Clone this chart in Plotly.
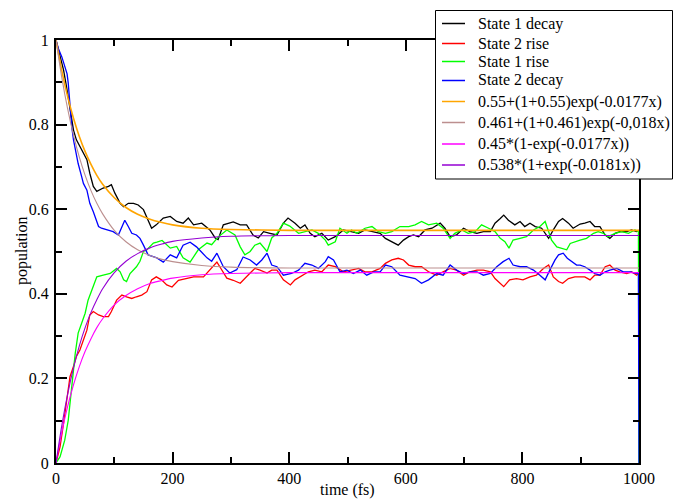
import plotly.graph_objects as go

# ---------------- data ----------------
s1_decay_x = [0, 7, 13, 18, 24, 30, 35, 41, 47, 53,
              58, 64, 70, 76, 81, 90, 95, 101, 110, 116,
              124, 133, 141, 150, 158, 164, 172, 184, 196, 207,
              218, 227, 236, 250, 264, 273, 278, 287, 304, 316,
              327, 338, 347, 356, 367, 379, 390, 398, 410, 419,
              427, 436, 444, 456, 467, 479, 493, 507, 519, 530,
              542, 556, 565, 576, 587, 596, 605, 613, 622, 633,
              645, 659, 667, 676, 687, 699, 710, 722, 733, 745,
              753, 762, 768, 776, 787, 796, 804, 813, 822, 833,
              839, 845, 853, 862, 869, 879, 887, 899, 907, 916,
              924, 933, 942, 950, 959, 967, 979, 987, 996, 1000]
s1_decay_y = [1.0, 0.961, 0.929, 0.89, 0.835, 0.787, 0.764, 0.748, 0.732, 0.717,
              0.685, 0.654, 0.642, 0.646, 0.65, 0.654, 0.658, 0.638, 0.614, 0.606,
              0.614, 0.614, 0.61, 0.599, 0.575, 0.555, 0.563, 0.579, 0.583, 0.571,
              0.567, 0.579, 0.563, 0.567, 0.551, 0.532, 0.528, 0.563, 0.57, 0.563,
              0.563, 0.539, 0.532, 0.547, 0.543, 0.539, 0.567, 0.579, 0.567, 0.555,
              0.563, 0.543, 0.535, 0.543, 0.527, 0.535, 0.551, 0.547, 0.543, 0.551,
              0.547, 0.543, 0.531, 0.523, 0.515, 0.527, 0.535, 0.539, 0.535, 0.551,
              0.555, 0.567, 0.555, 0.535, 0.539, 0.555, 0.547, 0.543, 0.547, 0.547,
              0.567, 0.578, 0.586, 0.574, 0.563, 0.571, 0.559, 0.567, 0.559, 0.555,
              0.543, 0.531, 0.551, 0.571, 0.578, 0.567, 0.555, 0.565, 0.567, 0.571,
              0.559, 0.559, 0.539, 0.531, 0.543, 0.547, 0.547, 0.551, 0.547, 0.55]

s2_rise_x = [0, 7, 13, 18, 24, 30, 35, 41, 47, 53,
             58, 64, 73, 81, 90, 95, 104, 113, 121, 130,
             138, 147, 156, 164, 172, 181, 190, 199, 210, 224,
             236, 253, 264, 276, 281, 293, 304, 316, 333, 341,
             350, 362, 370, 379, 390, 402, 410, 422, 433, 444,
             456, 467, 479, 493, 507, 519, 530, 542, 556, 565,
             576, 587, 596, 605, 616, 627, 639, 653, 664, 676,
             687, 699, 710, 722, 733, 745, 753, 762, 768, 778,
             790, 801, 813, 824, 836, 845, 853, 862, 869, 879,
             890, 899, 907, 916, 924, 933, 942, 950, 959, 967,
             979, 987, 996, 1000]
s2_rise_y = [0.0, 0.039, 0.094, 0.15, 0.204, 0.228, 0.252, 0.267, 0.29, 0.314,
             0.35, 0.358, 0.35, 0.346, 0.346, 0.358, 0.385, 0.397, 0.393, 0.389,
             0.393, 0.397, 0.405, 0.433, 0.44, 0.433, 0.421, 0.416, 0.432, 0.436,
             0.44, 0.44, 0.456, 0.475, 0.464, 0.437, 0.432, 0.425, 0.449, 0.46,
             0.456, 0.449, 0.456, 0.456, 0.433, 0.421, 0.433, 0.444, 0.452, 0.456,
             0.452, 0.468, 0.464, 0.452, 0.456, 0.46, 0.452, 0.452, 0.46, 0.472,
             0.48, 0.484, 0.48, 0.468, 0.464, 0.464, 0.452, 0.444, 0.452, 0.46,
             0.456, 0.444, 0.452, 0.456, 0.456, 0.452, 0.436, 0.425, 0.417, 0.433,
             0.436, 0.433, 0.44, 0.444, 0.46, 0.468, 0.44, 0.429, 0.425, 0.436,
             0.44, 0.44, 0.44, 0.433, 0.444, 0.444, 0.464, 0.468, 0.456, 0.452,
             0.448, 0.452, 0.444, 0.45]

s1_rise_x = [0, 7, 15, 21, 27, 33, 38, 44, 50, 55,
             61, 70, 81, 93, 104, 110, 116, 121, 127, 138,
             144, 150, 156, 167, 173, 182, 196, 207, 218, 230,
             244, 259, 267, 278, 293, 307, 316, 324, 333, 341,
             350, 362, 370, 379, 390, 401, 416, 427, 439, 450,
             462, 467, 479, 487, 499, 507, 516, 530, 542, 553,
             565, 576, 590, 605, 616, 627, 639, 653, 664, 676,
             684, 696, 707, 719, 730, 742, 753, 762, 770, 777,
             784, 796, 807, 819, 830, 839, 845, 850, 859, 867,
             876, 882, 890, 899, 910, 922, 930, 939, 947, 959,
             970, 982, 993, 999, 1000]
s1_rise_y = [0.0, 0.015, 0.054, 0.101, 0.18, 0.259, 0.307, 0.33, 0.354, 0.385,
             0.409, 0.44, 0.444, 0.448, 0.46, 0.452, 0.433, 0.429, 0.448, 0.464,
             0.477, 0.5, 0.504, 0.52, 0.522, 0.526, 0.508, 0.512, 0.485, 0.475,
             0.504, 0.52, 0.516, 0.534, 0.551, 0.539, 0.511, 0.492, 0.5, 0.515,
             0.52, 0.5, 0.532, 0.543, 0.567, 0.56, 0.543, 0.547, 0.551, 0.543,
             0.527, 0.515, 0.523, 0.555, 0.543, 0.551, 0.543, 0.555, 0.559, 0.547,
             0.543, 0.547, 0.559, 0.559, 0.563, 0.571, 0.563, 0.567, 0.555, 0.531,
             0.543, 0.551, 0.543, 0.547, 0.563, 0.555, 0.547, 0.531, 0.523, 0.508,
             0.527, 0.531, 0.535, 0.551, 0.559, 0.571, 0.547, 0.527, 0.511, 0.508,
             0.504, 0.519, 0.523, 0.527, 0.531, 0.543, 0.547, 0.543, 0.535, 0.543,
             0.547, 0.543, 0.551, 0.547, 0.0]

s2_decay_x = [0, 4, 10, 15, 19, 21, 24, 27, 30, 34,
              38, 44, 47, 53, 58, 64, 70, 73, 78, 87,
              98, 107, 113, 118, 124, 130, 138, 144, 150, 158,
              173, 184, 196, 207, 218, 230, 241, 259, 267, 276,
              287, 298, 310, 321, 333, 344, 353, 362, 370, 379,
              390, 404, 416, 427, 439, 450, 462, 467, 476, 487,
              499, 510, 522, 533, 545, 556, 565, 576, 590, 605,
              616, 627, 639, 653, 664, 676, 687, 699, 710, 722,
              733, 745, 756, 767, 777, 784, 796, 807, 819, 830,
              839, 847, 856, 862, 870, 877, 885, 893, 899, 907,
              916, 924, 933, 942, 950, 962, 973, 985, 996, 999,
              1000]
s2_decay_y = [1.0, 0.98, 0.96, 0.937, 0.92, 0.898, 0.842, 0.795, 0.764, 0.732,
              0.708, 0.677, 0.661, 0.645, 0.614, 0.594, 0.571, 0.559, 0.555, 0.551,
              0.547, 0.539, 0.559, 0.574, 0.559, 0.543, 0.539, 0.531, 0.515, 0.492,
              0.485, 0.475, 0.492, 0.485, 0.515, 0.522, 0.511, 0.485, 0.477, 0.496,
              0.464, 0.449, 0.457, 0.487, 0.48, 0.468, 0.48, 0.496, 0.468, 0.464,
              0.444, 0.448, 0.456, 0.472, 0.468, 0.46, 0.476, 0.488, 0.48, 0.452,
              0.456, 0.448, 0.456, 0.444, 0.452, 0.452, 0.468, 0.464, 0.444, 0.44,
              0.436, 0.425, 0.433, 0.448, 0.444, 0.468, 0.456, 0.448, 0.452, 0.452,
              0.444, 0.448, 0.464, 0.476, 0.484, 0.468, 0.464, 0.464, 0.456, 0.444,
              0.433, 0.456, 0.48, 0.492, 0.496, 0.484, 0.476, 0.468, 0.468, 0.464,
              0.456, 0.448, 0.444, 0.452, 0.456, 0.46, 0.452, 0.452, 0.448, 0.45,
              0.0]

# fitted curves, tabulated
fit_x = [0, 10, 20, 30, 40, 50, 60, 70, 80, 100,
         120, 140, 160, 180, 200, 250, 300, 400, 500, 1000]
fit_s1_decay = [1.0, 0.927, 0.866, 0.815, 0.772, 0.736, 0.706, 0.680, 0.659, 0.627,
                0.604, 0.588, 0.577, 0.569, 0.563, 0.555, 0.552, 0.550, 0.550, 0.550]
fit_s2_decay = [1.0, 0.911, 0.837, 0.775, 0.723, 0.680, 0.644, 0.614, 0.589, 0.550,
                0.523, 0.504, 0.491, 0.482, 0.476, 0.467, 0.463, 0.461, 0.461, 0.461]
fit_s2_rise = [0.0, 0.073, 0.134, 0.185, 0.228, 0.264, 0.294, 0.320, 0.341, 0.374,
               0.396, 0.412, 0.424, 0.431, 0.437, 0.445, 0.448, 0.450, 0.450, 0.450]
fit_s1_rise = [0.0, 0.089, 0.163, 0.225, 0.277, 0.320, 0.356, 0.386, 0.412, 0.450,
               0.477, 0.495, 0.508, 0.517, 0.524, 0.532, 0.536, 0.538, 0.538, 0.538]

legend_names = ["State 1 decay", "State 2 rise", "State 1 rise", "State 2 decay",
                "0.55+(1+0.55)exp(-0.0177x)", "0.461+(1+0.461)exp(-0,018x)",
                "0.45*(1-exp(-0.0177x))", "0.538*(1+exp(-0.0181x))"]
series_colors = ["#000000", "#ff0000", "#00ff00", "#0000ff",
                 "#ffa500", "#bc8f8f", "#ff00ff", "#9400d3"]

# ---------------- layout geometry ----------------
W, H = 673, 501
ML, MR, MT, MB = 56, 34, 40, 38
PW, PH = W - ML - MR, H - MT - MB
FONT = "'Liberation Serif', 'Times New Roman', 'DejaVu Serif', serif"


def pxx(X):
    return (X - ML) / PW


def pxy(Y):
    return (H - MB - Y) / PH


fig = go.Figure()
data_series = [(s1_decay_x, s1_decay_y), (s2_rise_x, s2_rise_y),
               (s1_rise_x, s1_rise_y), (s2_decay_x, s2_decay_y)]
for i, (xs, ys) in enumerate(data_series):
    fig.add_trace(go.Scatter(x=xs, y=ys, mode="lines", name=legend_names[i],
                             line=dict(color=series_colors[i], width=1.3),
                             showlegend=False))
fit_series = [fit_s1_decay, fit_s2_decay, fit_s2_rise, fit_s1_rise]
for j, ys in enumerate(fit_series):
    fig.add_trace(go.Scatter(x=fit_x, y=ys, mode="lines", name=legend_names[4 + j],
                             line=dict(color=series_colors[4 + j],
                                       width=1.6 if j == 0 else 1.1,
                                       shape="spline", smoothing=0.8),
                             showlegend=False))

# legend drawn as a box with samples and labels
shapes = [dict(type="rect", xref="paper", yref="paper",
               x0=pxx(435.5), x1=pxx(672.5), y0=pxy(179), y1=pxy(10.5),
               line=dict(color="black", width=1), fillcolor="white", layer="above")]
annotations = []
legend_rows = [23.5, 43.5, 61.5, 80.5, 101.5, 122.5, 144, 165]
for name, col, Y in zip(legend_names, series_colors, legend_rows):
    shapes.append(dict(type="line", xref="paper", yref="paper",
                       x0=pxx(442), x1=pxx(465), y0=pxy(Y), y1=pxy(Y),
                       line=dict(color=col, width=1.5), layer="above"))
    annotations.append(dict(xref="paper", yref="paper", x=pxx(476), y=pxy(Y),
                            xanchor="left", yanchor="middle", text=name,
                            showarrow=False,
                            font=dict(family=FONT, size=16, color="black")))

# axis titles
annotations.append(dict(xref="paper", yref="paper", x=pxx(347.5), y=pxy(490),
                        xanchor="center", yanchor="middle", text="time (fs)",
                        showarrow=False, font=dict(family=FONT, size=16, color="black")))
annotations.append(dict(xref="paper", yref="paper", x=pxx(22), y=pxy(251),
                        xanchor="center", yanchor="middle", text="population",
                        textangle=-90, showarrow=False,
                        font=dict(family=FONT, size=16, color="black")))

axis_common = dict(ticks="inside", ticklen=11, tickwidth=1.5, tickcolor="black",
                   showline=True, linewidth=2, linecolor="black", mirror="ticks",
                   showgrid=False, zeroline=False, automargin=False,
                   tickfont=dict(family=FONT, size=16, color="black"))

fig.update_layout(
    width=W, height=H,
    margin=dict(l=ML, r=MR, t=MT, b=MB, pad=0, autoexpand=False),
    paper_bgcolor="white", plot_bgcolor="white",
    font=dict(family=FONT, size=16, color="black"),
    showlegend=False,
    shapes=shapes, annotations=annotations,
    xaxis=dict(range=[0, 1000], tick0=0, dtick=200,
               minor=dict(dtick=100, ticks="inside", ticklen=6, tickwidth=1.5,
                          tickcolor="black", showgrid=False),
               **axis_common),
    yaxis=dict(range=[0, 1], tick0=0, dtick=0.2, ticklabelstandoff=2,
               minor=dict(dtick=0.1, ticks="inside", ticklen=6, tickwidth=1.5,
                          tickcolor="black", showgrid=False),
               **axis_common),
)

fig.write_html(
    "out.html",
    config={"displayModeBar": False},
    post_script="document.body.style.margin='0';document.body.style.overflow='hidden';",
)
